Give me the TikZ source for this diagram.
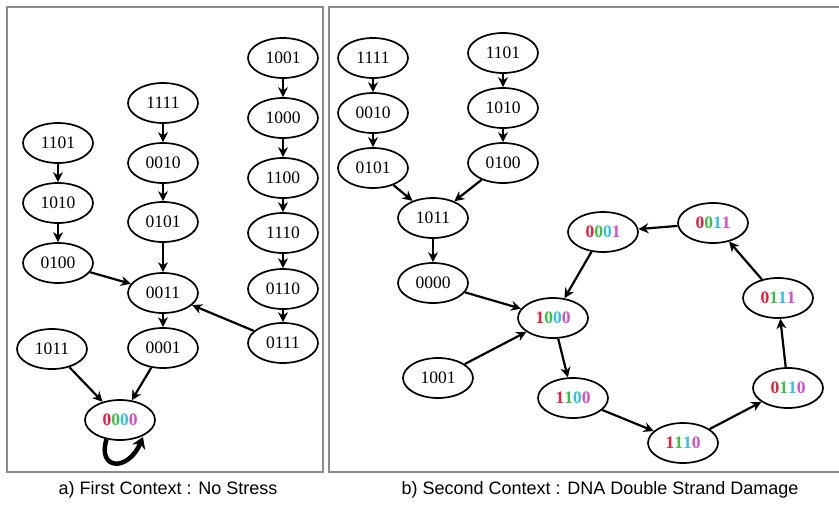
\documentclass[tikz,border=0pt]{standalone}
\usepackage{fontspec}
\setmainfont{Liberation Serif}
\newfontfamily\capfont{Liberation Sans}
\usetikzlibrary{shapes.geometric,arrows.meta}
\definecolor{cr}{HTML}{E5213F}
\definecolor{cg}{HTML}{3CBF4A}
\definecolor{cc}{HTML}{35BFE3}
\definecolor{cm}{HTML}{D64FC8}
\definecolor{frame}{HTML}{8C8C8C}
\newcommand\cdig[4]{\textbf{\textcolor{cr}{#1}\textcolor{cg}{#2}\textcolor{cc}{#3}\textcolor{cm}{#4}}}
\tikzset{
  st/.style={draw, ellipse, line width=1.7pt, minimum width=70pt, minimum height=40pt, inner sep=0pt, font=\fontsize{17.5}{19}\selectfont},
  ed/.style={line width=2.2pt, -{Stealth[length=10pt,width=10pt]}},
  panel/.style={draw=frame, line width=1.6pt},
  captext/.style={font=\capfont\fontsize{18}{20}\selectfont, inner sep=0pt}
}
\begin{document}
\begin{tikzpicture}[x=1pt,y=-1pt]
\useasboundingbox (0,0) rectangle (839,506);
% frames
\draw[panel] (7,7) rectangle (323,472);
\draw[panel] (840,7) -- (329,7) -- (329,472) -- (840,472);
% panel a
\node[st] (a1001) at (283,58) {1001};
\node[st] (a1000) at (283,118) {1000};
\node[st] (a1100) at (283,178) {1100};
\node[st] (a1110) at (283,233) {1110};
\node[st] (a0110) at (283,289) {0110};
\node[st] (a0111) at (283,343) {0111};
\node[st] (a1111) at (163,103) {1111};
\node[st] (a0010) at (163,163) {0010};
\node[st] (a0101) at (163,222) {0101};
\node[st] (a0011) at (163,293) {0011};
\node[st] (a0001) at (163,348) {0001};
\node[st] (a1101) at (58,143) {1101};
\node[st] (a1010) at (58,203) {1010};
\node[st] (a0100) at (58,263) {0100};
\node[st] (a1011) at (52,349) {1011};
\node[st] (a0000) at (120,420) {\cdig0000};
\coordinate (looptip) at (143,437);
\draw[ed] (a1001) -- (a1000);
\draw[ed] (a1000) -- (a1100);
\draw[ed] (a1100) -- (a1110);
\draw[ed] (a1110) -- (a0110);
\draw[ed] (a0110) -- (a0111);
\draw[ed] (a1111) -- (a0010);
\draw[ed] (a0010) -- (a0101);
\draw[ed] (a0101) -- (a0011);
\draw[ed] (a0011) -- (a0001);
\draw[ed] (a0001) -- (a0000);
\draw[ed] (a1101) -- (a1010);
\draw[ed] (a1010) -- (a0100);
\draw[ed] (a0100) -- (a0011);
\draw[ed] (a0111) -- (a0011);
\draw[ed] (a1011) -- (a0000);
\draw[line width=4.5pt, -{Stealth[length=11pt,width=14pt]}] (a0000.-125) .. controls (97,470) and (128,472) .. (looptip);
% panel b
\node[st] (b1111) at (373,58) {1111};
\node[st] (b0010) at (373,113) {0010};
\node[st] (b0101) at (373,168) {0101};
\node[st] (b1101) at (503,53) {1101};
\node[st] (b1010) at (503,108) {1010};
\node[st] (b0100) at (503,163) {0100};
\node[st] (b1011) at (433,218) {1011};
\node[st] (b0000) at (433,283) {0000};
\node[st] (b1001) at (438,378) {1001};
\node[st] (b1000) at (553,318) {\cdig1000};
\node[st] (b1100) at (573,398) {\cdig1100};
\node[st] (b1110) at (683,443) {\cdig1110};
\node[st] (b0110) at (788,388) {\cdig0110};
\node[st] (b0111) at (778,298) {\cdig0111};
\node[st] (b0011) at (713,223) {\cdig0011};
\node[st] (b0001) at (603,232) {\cdig0001};
\draw[ed] (b1111) -- (b0010);
\draw[ed] (b0010) -- (b0101);
\draw[ed] (b0101) -- (b1011);
\draw[ed] (b1101) -- (b1010);
\draw[ed] (b1010) -- (b0100);
\draw[ed] (b0100) -- (b1011);
\draw[ed] (b1011) -- (b0000);
\draw[ed] (b0000) -- (b1000);
\draw[ed] (b1001) -- (b1000);
\draw[ed] (b1000) -- (b1100);
\draw[ed] (b1100) -- (b1110);
\draw[ed] (b1110) -- (b0110);
\draw[ed] (b0110) -- (b0111);
\draw[ed] (b0111) -- (b0011);
\draw[ed] (b0011) -- (b0001);
\draw[ed] (b0001) -- (b1000);
% captions
\node[captext] (capa) at (168,490) {a) First Context : No Stress};
\node[captext] (capb) at (600,490) {b) Second Context : DNA Double Strand Damage};
\end{tikzpicture}
\end{document}
